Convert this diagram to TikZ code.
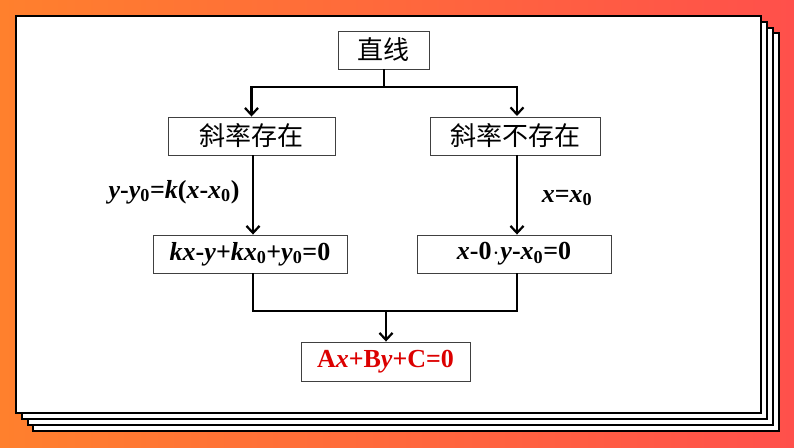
\documentclass[tikz,border=0pt]{standalone}
\usepackage{fontspec}
\setmainfont{Liberation Serif}
\newfontfamily\cjk{Noto Sans CJK SC}
\usetikzlibrary{arrows.meta}
\definecolor{bgL}{RGB}{255,128,45}
\definecolor{bgR}{RGB}{255,80,75}
\definecolor{eqred}{RGB}{220,0,0}
\newcommand\iv[1]{\textit{#1}}
\newcommand\sub[1]{\textsubscript{#1}}
\tikzset{
  page/.style={draw=black,fill=white,line width=1.5pt},
  box/.style={draw=black!75,line width=0.9pt,fill=white,inner sep=0pt,minimum height=38pt},
  cnbox/.style={box,font=\cjk\fontsize{26}{28}\selectfont},
  eqbox/.style={box,font=\fontsize{26}{28}\selectfont\bfseries},
  lbl/.style={font=\fontsize{26}{28}\selectfont\bfseries,inner sep=0pt},
  conn/.style={line width=2.4pt,black},
  arr/.style={conn,-{Straight Barb[length=7pt,width=13pt,line width=2.2pt]}}
}
\begin{document}
\begin{tikzpicture}[x=1pt,y=-1pt]
\useasboundingbox (0,0) rectangle (794,447);
\shade[left color=bgL,right color=bgR] (0,0) rectangle (794,447);
% stacked pages
\draw[page] (33,33) rectangle (779,431);
\draw[page] (28,28) rectangle (773,425);
\draw[page] (22,22) rectangle (767,419);
\draw[page,line width=2.5pt] (16,16) rectangle (761,413);
% nodes
\node[cnbox,minimum width=91pt] (top) at (383.5,50) {直线};
\node[cnbox,minimum width=167pt] (ks) at (251.5,136) {斜率存在};
\node[cnbox,minimum width=170pt] (kn) at (515,136) {斜率不存在};
\node[eqbox,minimum width=194pt] (e1) at (250,254) {\iv{kx}-\iv{y}+\iv{kx}\sub{0}+\iv{y}\sub{0}=0};
\node[eqbox,minimum width=194pt] (e2) at (514,254) {\iv{x}-0\kern1pt$\cdot$\kern1pt\iv{y}-\iv{x}\sub{0}=0};
\node[eqbox,minimum width=169pt,minimum height=39pt,text=eqred] (res) at (385.5,361.5) {A\iv{x}+B\iv{y}+C=0};
\node[lbl] (l1) at (174,192) {\iv{y}-\iv{y}\sub{0}=\iv{k}(\iv{x}-\iv{x}\sub{0})};
\node[lbl] (l2) at (567,198) {\iv{x}=\iv{x}\sub{0}};
% connectors
\coordinate (j1) at (384,87);
\coordinate (jL) at (253,311);
\coordinate (jR) at (517,311);
\coordinate (jM) at (386,311);
\draw[conn] (top.south -| j1) -- (j1);
\draw[arr] (j1) -| (ks.north);
\draw[arr] (j1) -| (517,116);
\draw[arr] (253,155) -- (e1.north -| 253,0);
\draw[arr] (517,155) -- (e2.north -| 517,0);
\draw[conn] (e1.south -| jL) -- (jL) -- (jR) -- (e2.south -| jR);
\draw[arr] (jM) -- (res.north -| jM);
\end{tikzpicture}
\end{document}
